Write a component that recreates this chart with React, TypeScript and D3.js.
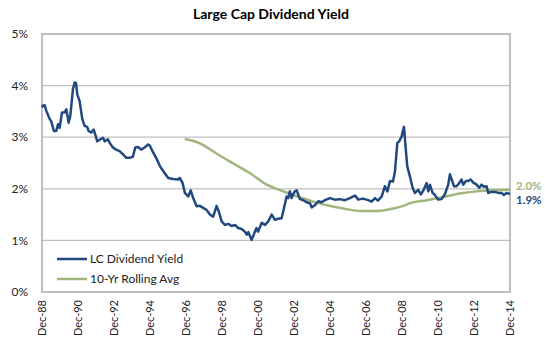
import { useEffect, useRef } from "react";
import * as d3 from "d3";

// LC dividend yield (decimal years, %)
const lcYears = [
  1988.92, 1988.97, 1989.07, 1989.16, 1989.35, 1989.43, 1989.58, 1989.71, 1989.81, 1989.9,
  1990.03, 1990.18, 1990.27, 1990.4, 1990.49, 1990.64, 1990.73, 1990.81, 1990.88, 1991.01,
  1991.16, 1991.29, 1991.43, 1991.51, 1991.66, 1991.79, 1991.88, 1991.99, 1992.12, 1992.31,
  1992.4, 1992.58, 1992.68, 1992.86, 1993.04, 1993.23, 1993.42, 1993.6, 1993.79, 1993.97,
  1994.1, 1994.25, 1994.43, 1994.62, 1994.82, 1994.92, 1995.1, 1995.29, 1995.47, 1995.66,
  1995.93, 1996.21, 1996.49, 1996.58, 1996.73, 1996.86, 1997.04, 1997.18, 1997.32, 1997.51,
  1997.69, 1997.88, 1998.07, 1998.25, 1998.43, 1998.62, 1998.77, 1998.9, 1999.08, 1999.27,
  1999.45, 1999.64, 1999.82, 2000.01, 2000.19, 2000.29, 2000.38, 2000.57, 2000.75, 2000.84,
  2000.93, 2001.12, 2001.31, 2001.49, 2001.68, 2001.86, 2002.04, 2002.23, 2002.32, 2002.51,
  2002.6, 2002.69, 2002.79, 2002.88, 2002.97, 2003.07, 2003.25, 2003.43, 2003.62, 2003.81,
  2003.9, 2004.08, 2004.27, 2004.45, 2004.64, 2004.92, 2005.19, 2005.47, 2005.75, 2006.03,
  2006.31, 2006.49, 2006.75, 2007.04, 2007.23, 2007.42, 2007.58, 2007.79, 2007.97, 2008.11,
  2008.25, 2008.42, 2008.53, 2008.66, 2008.77, 2008.9, 2009.03, 2009.1, 2009.21, 2009.36,
  2009.51, 2009.64, 2009.82, 2009.97, 2010.11, 2010.29, 2010.38, 2010.47, 2010.62, 2010.75,
  2010.93, 2011.12, 2011.31, 2011.49, 2011.58, 2011.68, 2011.81, 2011.95, 2012.1, 2012.23,
  2012.32, 2012.47, 2012.6, 2012.73, 2012.88, 2013.07, 2013.21, 2013.34, 2013.47, 2013.62,
  2013.71, 2013.9, 2014.08, 2014.27, 2014.45, 2014.58, 2014.73, 2014.92,
];
const lcYield = [
  3.58, 3.61, 3.62, 3.51, 3.35, 3.31, 3.12, 3.12, 3.25, 3.18,
  3.48, 3.48, 3.54, 3.28, 3.41, 3.93, 4.06, 4.05, 3.83, 3.7,
  3.35, 3.22, 3.2, 3.12, 3.09, 3.15, 3.05, 2.92, 2.95, 2.99,
  2.92, 2.96, 2.89, 2.8, 2.76, 2.73, 2.67, 2.6, 2.6, 2.62,
  2.8, 2.81, 2.76, 2.8, 2.86, 2.83, 2.7, 2.58, 2.44, 2.34,
  2.21, 2.19, 2.18, 2.21, 2.11, 1.92, 1.85, 1.97, 1.82, 1.66,
  1.67, 1.63, 1.59, 1.5, 1.46, 1.67, 1.53, 1.37, 1.3, 1.32,
  1.28, 1.3, 1.24, 1.22, 1.17, 1.11, 1.16, 1.01, 1.17, 1.24,
  1.17, 1.34, 1.3, 1.37, 1.5, 1.4, 1.42, 1.43, 1.56, 1.85,
  1.82, 1.95, 1.82, 1.9, 1.95, 1.97, 1.8, 1.78, 1.74, 1.72,
  1.64, 1.68, 1.76, 1.74, 1.78, 1.82, 1.79, 1.8, 1.78, 1.82,
  1.87, 1.79, 1.81, 1.78, 1.75, 1.82, 1.77, 1.85, 2.05, 1.95,
  2.15, 2.14, 2.34, 2.89, 2.92, 3.02, 3.2, 2.89, 2.44, 2.24,
  2.02, 1.92, 1.98, 1.89, 1.97, 2.11, 1.95, 2.08, 1.92, 1.88,
  1.79, 1.8, 1.9, 2.08, 2.28, 2.18, 2.05, 2.05, 2.11, 2.18,
  2.08, 2.15, 2.15, 2.18, 2.12, 2.08, 2.02, 2.08, 2.04, 2.05,
  1.92, 1.94, 1.94, 1.92, 1.92, 1.88, 1.92, 1.9,
];

// 10-year rolling average
const avgYears = [
  1996.85, 1997.7, 1998.63, 1999.55, 2000.48, 2001.4, 2001.96, 2002.88, 2003.81, 2004.74,
  2005.66, 2006.59, 2007.51, 2008.44, 2008.99, 2009.36, 2010.29, 2011.21, 2012.14, 2013.07,
  2013.99, 2014.92,
];
const avgYield = [
  2.97, 2.88, 2.68, 2.49, 2.3, 2.08, 2.0, 1.88, 1.77, 1.68,
  1.62, 1.57, 1.57, 1.62, 1.67, 1.72, 1.78, 1.84, 1.91, 1.95,
  1.97, 1.98,
];

const tickYears = [1988, 1990, 1992, 1994, 1996, 1998, 2000, 2002, 2004, 2006, 2008, 2010, 2012, 2014];
const tickLabels = ["Dec-88", "Dec-90", "Dec-92", "Dec-94", "Dec-96", "Dec-98", "Dec-00", "Dec-02", "Dec-04", "Dec-06", "Dec-08", "Dec-10", "Dec-12", "Dec-14"];
const yTicks = [0, 1, 2, 3, 4, 5];
const seriesNames = ["LC Dividend Yield", "10-Yr Rolling Avg"];
const endLabels = ["1.9%", "2.0%"];

const BLUE = "#21497f";
const GREEN = "#a0b67c";
const FONT = "Lato, 'Open Sans', sans-serif";

export default function App() {
  const ref = useRef<SVGSVGElement>(null);

  useEffect(() => {
    if (!ref.current) return;
    const svg = d3.select(ref.current);
    svg.selectAll("*").remove();

    const width = 545;
    const height = 340;
    const margin = { top: 34, right: 35, bottom: 48, left: 42 };

    const x = d3.scaleLinear()
      .domain([1988.92, 2014.92])
      .range([margin.left, width - margin.right]);
    const y = d3.scaleLinear()
      .domain([0, 5])
      .range([height - margin.bottom, margin.top]);

    // title
    svg.append("text")
      .attr("x", 271)
      .attr("y", 19)
      .attr("text-anchor", "middle")
      .style("font-family", FONT)
      .style("font-weight", "bold")
      .style("font-size", "14px")
      .text("Large Cap Dividend Yield");

    // gridlines
    svg.append("g")
      .selectAll("line")
      .data(yTicks)
      .join("line")
        .attr("x1", margin.left)
        .attr("x2", width - margin.right)
        .attr("y1", d => y(d))
        .attr("y2", d => y(d))
        .attr("stroke", "#c0c0c0")
        .attr("stroke-width", 1.2);

    // plot border
    svg.append("rect")
      .attr("x", margin.left)
      .attr("y", margin.top)
      .attr("width", width - margin.left - margin.right)
      .attr("height", height - margin.top - margin.bottom)
      .attr("fill", "none")
      .attr("stroke", "#bdbdbd")
      .attr("stroke-width", 2);

    // y labels
    svg.append("g")
      .selectAll("text")
      .data(yTicks)
      .join("text")
        .attr("x", 28)
        .attr("y", d => y(d))
        .attr("dy", "0.35em")
        .attr("text-anchor", "end")
        .style("font-family", FONT)
        .style("font-size", "12px")
        .attr("fill", "#222")
        .text(d => `${d}%`);

    // x labels (rotated)
    svg.append("g")
      .selectAll("text")
      .data(tickYears)
      .join("text")
        .attr("transform", (d) => `translate(${x(d + 0.92) + 4},${height - margin.bottom + 8}) rotate(-90)`)
        .attr("text-anchor", "end")
        .style("font-family", FONT)
        .style("font-size", "11px")
        .attr("fill", "#222")
        .text((_, i) => tickLabels[i]);

    const lcData = lcYears.map((yr, i) => [yr, lcYield[i]] as [number, number]);
    const avgData = avgYears.map((yr, i) => [yr, avgYield[i]] as [number, number]);

    const line = d3.line<[number, number]>()
      .x(d => x(d[0]))
      .y(d => y(d[1]));
    const smooth = d3.line<[number, number]>()
      .x(d => x(d[0]))
      .y(d => y(d[1]))
      .curve(d3.curveMonotoneX);

    svg.append("path")
      .datum(avgData)
      .attr("fill", "none")
      .attr("stroke", GREEN)
      .attr("stroke-width", 2.5)
      .attr("d", smooth);

    svg.append("path")
      .datum(lcData)
      .attr("fill", "none")
      .attr("stroke", BLUE)
      .attr("stroke-width", 2.5)
      .attr("stroke-linejoin", "round")
      .attr("d", line);

    // end labels
    svg.append("text")
      .attr("x", 516)
      .attr("y", 186)
      .attr("dy", "0.35em")
      .style("font-family", FONT)
      .style("font-weight", "bold")
      .style("font-size", "11.5px")
      .attr("fill", GREEN)
      .text(endLabels[1]);
    svg.append("text")
      .attr("x", 516)
      .attr("y", 200)
      .attr("dy", "0.35em")
      .style("font-family", FONT)
      .style("font-weight", "bold")
      .style("font-size", "11.5px")
      .attr("fill", BLUE)
      .text(endLabels[0]);

    // legend
    const legend = svg.append("g");
    [BLUE, GREEN].forEach((c, i) => {
      const ly = 259 + i * 20;
      legend.append("line")
        .attr("x1", 57).attr("x2", 87)
        .attr("y1", ly).attr("y2", ly)
        .attr("stroke", c)
        .attr("stroke-width", 2.5);
      legend.append("text")
        .attr("x", 90)
        .attr("y", ly)
        .attr("dy", "0.35em")
        .style("font-family", FONT)
        .style("font-size", "12px")
        .attr("fill", "#222")
        .text(seriesNames[i]);
    });
  }, []);

  return (
    <svg ref={ref} width={545} height={340} style={{ position: "absolute", left: 0, top: 0 }} />
  );
}
